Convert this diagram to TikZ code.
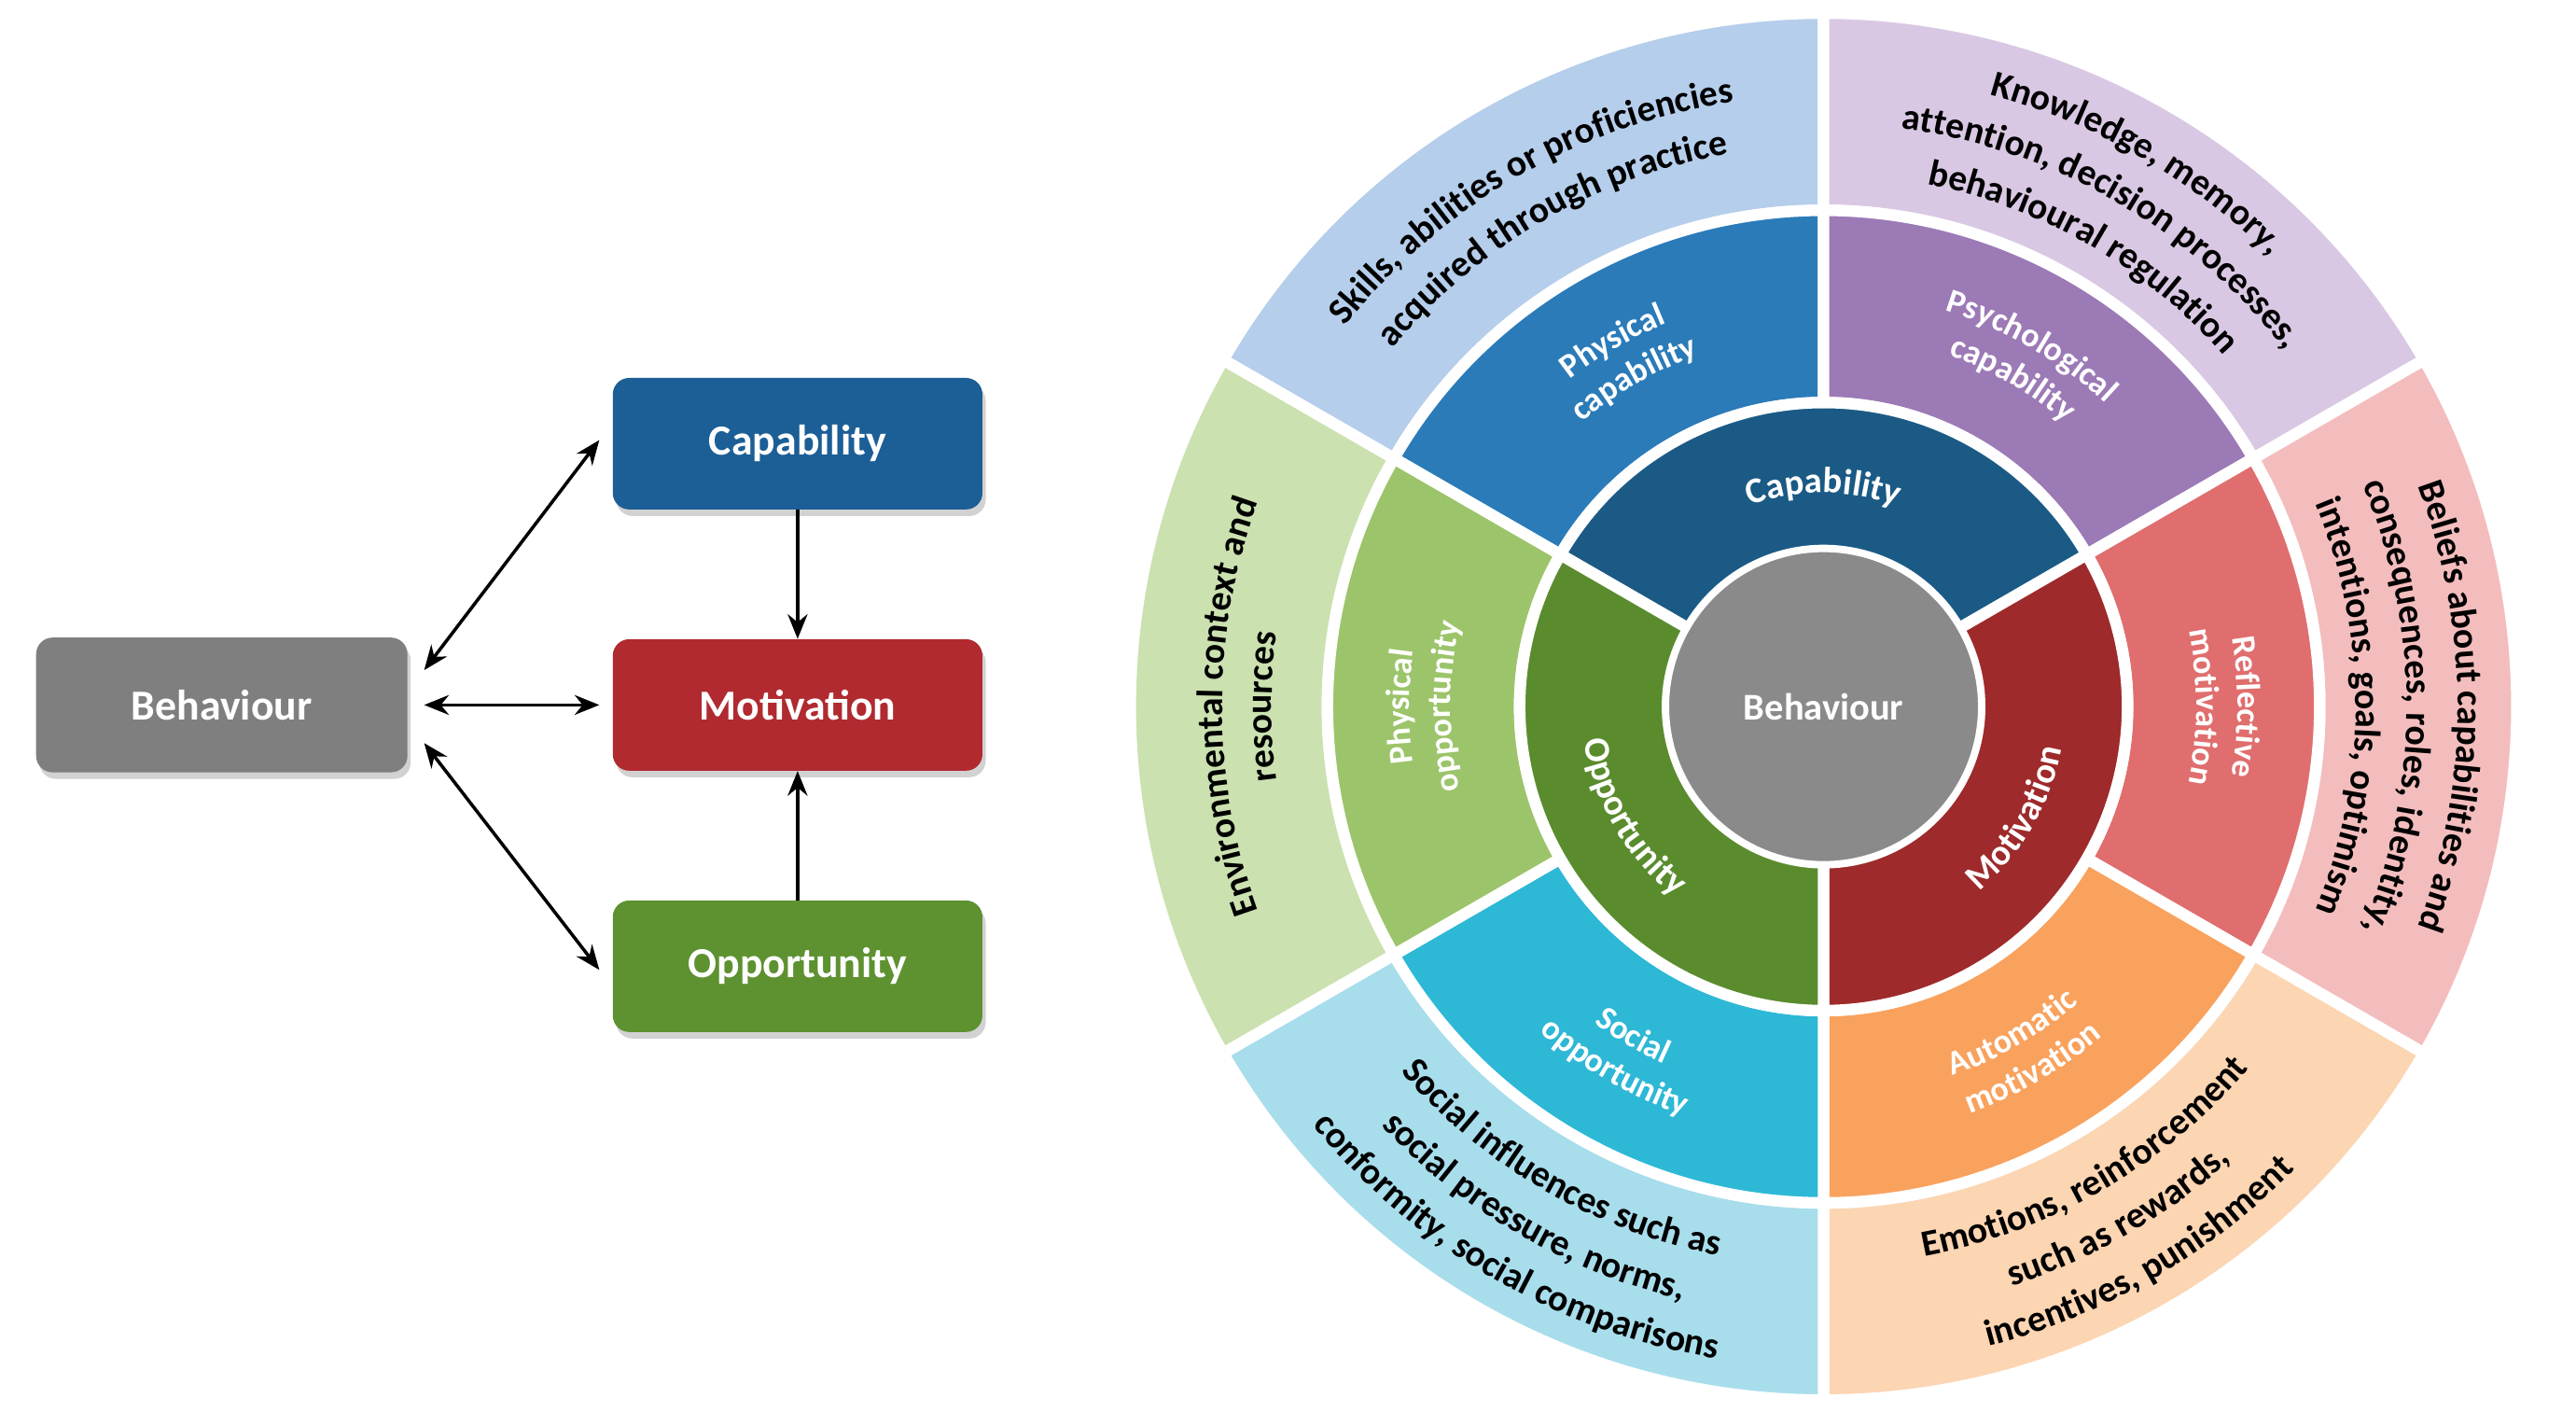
\documentclass[tikz,border=0pt]{standalone}
\usepackage{fontspec}
\setmainfont{Carlito}
\usetikzlibrary{arrows.meta,shadows,decorations.text}
\definecolor{bBeh}{HTML}{7F7F7F}
\definecolor{bCap}{HTML}{1C5E96}
\definecolor{bMot}{HTML}{B02A30}
\definecolor{bOpp}{HTML}{5E9130}
\definecolor{wCap}{HTML}{1B5A85}
\definecolor{wMot}{HTML}{9E2A2B}
\definecolor{wOpp}{HTML}{5A8C2E}
\definecolor{wBeh}{HTML}{8A8A8A}
\definecolor{rPC}{HTML}{2B7BB9}
\definecolor{rPsy}{HTML}{9C7AB6}
\definecolor{rRef}{HTML}{E06E6E}
\definecolor{rAut}{HTML}{F9A25E}
\definecolor{rSoc}{HTML}{2DB8D6}
\definecolor{rPO}{HTML}{9CC46A}
\definecolor{oPC}{HTML}{B5CEEB}
\definecolor{oPsy}{HTML}{D9C8E3}
\definecolor{oRef}{HTML}{F4BDBD}
\definecolor{oAut}{HTML}{FCD5B3}
\definecolor{oSoc}{HTML}{A8DDEC}
\definecolor{oPO}{HTML}{CBE1B0}
\newcommand\wsect[5]{\fill[#5, draw=white, line width=7pt] (#1:#3pt) arc[start angle=#1, end angle=#2, radius=#3pt] -- (#2:#4pt) arc[start angle=#2, end angle=#1, radius=#4pt] -- cycle;}
\newcommand\arclabel[5]{\path[decoration={text along path, text align=center, text={|#4|#5}}, decorate] (#2:#1pt) arc[start angle=#2, end angle=#3, radius=#1pt];}
\newcommand\OT{\fontsize{22.5}{26}\selectfont\bfseries\color{black}}
\newcommand\RT{\fontsize{20.5}{24}\selectfont\bfseries\color{white}}
\newcommand\MT{\fontsize{22}{26}\selectfont\bfseries\color{white}}
\begin{document}
\begin{tikzpicture}[x=1pt,y=1pt,
  box/.style={rounded corners=10pt, minimum width=225pt, minimum height=80pt, text=white, font=\fontsize{26}{30}\selectfont\bfseries, drop shadow={opacity=0.35, shadow xshift=2pt, shadow yshift=-4pt}},
  arr/.style={line width=2pt, {Stealth[length=15pt,width=12pt]}-{Stealth[length=15pt,width=12pt]}},
  arr1/.style={line width=2pt, -{Stealth[length=15pt,width=12pt]}}]
\useasboundingbox (0,0) rectangle (1568,859);
\fill[white] (0,0) rectangle (1568,859);
% left diagram
\node[box, fill=bBeh, minimum width=226pt, minimum height=82pt] (beh) at (135,430) {Behaviour};
\node[box, fill=bCap] (cap) at (485.5,589) {Capability};
\node[box, fill=bMot] (mot) at (485.5,430) {Motivation};
\node[box, fill=bOpp] (opp) at (485.5,271) {Opportunity};
\draw[arr] ([xshift=10pt,yshift=-20pt]beh.north east) -- ([xshift=-8pt,yshift=-38pt]cap.north west);
\draw[arr] ([xshift=10pt]beh.east) -- ([xshift=-8pt]mot.west);
\draw[arr] ([xshift=10pt,yshift=18pt]beh.south east) -- ([xshift=-8pt,yshift=38pt]opp.south west);
\draw[arr1] (cap.south) -- (mot.north);
\draw[arr1] (opp.north) -- (mot.south);
% wheel
\begin{scope}[shift={(1110,429)}]
\wsect{90}{150}{302}{422}{oPC}
\wsect{30}{90}{302}{422}{oPsy}
\wsect{-30}{30}{302}{422}{oRef}
\wsect{270}{330}{302}{422}{oAut}
\wsect{210}{270}{302}{422}{oSoc}
\wsect{150}{210}{302}{422}{oPO}
\wsect{90}{150}{185}{302}{rPC}
\wsect{30}{90}{185}{302}{rPsy}
\wsect{-30}{30}{185}{302}{rRef}
\wsect{270}{330}{185}{302}{rAut}
\wsect{210}{270}{185}{302}{rSoc}
\wsect{150}{210}{185}{302}{rPO}
\wsect{30}{150}{95}{185}{wCap}
\wsect{-90}{30}{95}{185}{wMot}
\wsect{150}{270}{95}{185}{wOpp}
\node[circle, fill=wBeh, draw=white, line width=4pt, minimum size=192pt, text=white, font=\fontsize{23}{27}\selectfont\bfseries] (wbeh) at (0,0) {Behaviour};
% ring 2 labels
\arclabel{130}{150}{30}{\MT}{Capability}
\arclabel{147}{270}{390}{\MT}{Motivation}
\arclabel{147}{150}{270}{\MT}{Opportunity}
% ring 3 labels
\arclabel{252}{150}{90}{\RT}{Physical}
\arclabel{227}{150}{90}{\RT}{capability}
\arclabel{252}{90}{30}{\RT}{Psychological}
\arclabel{227}{90}{30}{\RT}{capability}
\arclabel{252}{30}{-30}{\RT}{Reflective}
\arclabel{227}{30}{-30}{\RT}{motivation}
\arclabel{238}{270}{330}{\RT}{Automatic}
\arclabel{263}{270}{330}{\RT}{motivation}
\arclabel{238}{210}{270}{\RT}{Social}
\arclabel{263}{210}{270}{\RT}{opportunity}
\arclabel{252}{210}{150}{\RT}{Physical}
\arclabel{227}{210}{150}{\RT}{opportunity}
% outer labels
\arclabel{372}{150}{90}{\OT}{Skills, abilities or proficiencies}
\arclabel{341}{150}{90}{\OT}{acquired through practice}
\arclabel{386}{90}{30}{\OT}{Knowledge, memory,}
\arclabel{355}{90}{30}{\OT}{attention, decision processes,}
\arclabel{324}{90}{30}{\OT}{behavioural regulation}
\arclabel{386}{30}{-30}{\OT}{Beliefs about capabilities and}
\arclabel{355}{30}{-30}{\OT}{consequences, roles, identity,}
\arclabel{324}{30}{-30}{\OT}{intentions, goals, optimism}
\arclabel{340}{270}{330}{\OT}{Emotions, reinforcement}
\arclabel{371}{270}{330}{\OT}{such as rewards,}
\arclabel{402}{270}{330}{\OT}{incentives, punishment}
\arclabel{340}{210}{270}{\OT}{Social influences such as}
\arclabel{371}{210}{270}{\OT}{social pressure, norms,}
\arclabel{402}{210}{270}{\OT}{conformity, social comparisons}
\arclabel{366}{210}{150}{\OT}{Environmental context and}
\arclabel{336}{210}{150}{\OT}{resources}
\end{scope}
\end{tikzpicture}
\end{document}
